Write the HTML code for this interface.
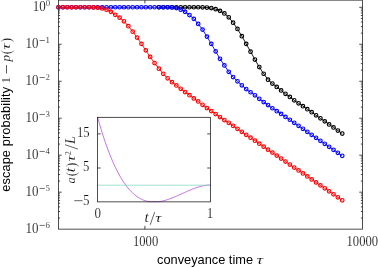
<!DOCTYPE html>
<html><head><meta charset="utf-8"><title>plot</title>
<style>html,body{margin:0;padding:0;background:#fff;}body{width:378px;height:268px;overflow:hidden;font-family:"Liberation Sans",sans-serif;}svg{display:block;will-change:transform;}</style></head>
<body>
<svg width="378" height="268" viewBox="0 0 378 268">
<rect width="378" height="268" fill="#fff"/>
<g stroke="#000" stroke-width="0.85" fill="none" stroke-opacity="0.82"><rect x="58.5" y="0.15" width="303.95" height="229.00" fill="none"/><path d="M58.5 7.30h3.2 M362.45 7.30h-3.2 M58.5 44.27h3.2 M362.45 44.27h-3.2 M58.5 33.14h1.6 M362.45 33.14h-1.6 M58.5 26.63h1.6 M362.45 26.63h-1.6 M58.5 22.01h1.6 M362.45 22.01h-1.6 M58.5 18.43h1.6 M362.45 18.43h-1.6 M58.5 15.50h1.6 M362.45 15.50h-1.6 M58.5 13.03h1.6 M362.45 13.03h-1.6 M58.5 10.88h1.6 M362.45 10.88h-1.6 M58.5 8.99h1.6 M362.45 8.99h-1.6 M58.5 81.25h3.2 M362.45 81.25h-3.2 M58.5 70.12h1.6 M362.45 70.12h-1.6 M58.5 63.61h1.6 M362.45 63.61h-1.6 M58.5 58.99h1.6 M362.45 58.99h-1.6 M58.5 55.41h1.6 M362.45 55.41h-1.6 M58.5 52.48h1.6 M362.45 52.48h-1.6 M58.5 50.00h1.6 M362.45 50.00h-1.6 M58.5 47.86h1.6 M362.45 47.86h-1.6 M58.5 45.97h1.6 M362.45 45.97h-1.6 M58.5 118.23h3.2 M362.45 118.23h-3.2 M58.5 107.09h1.6 M362.45 107.09h-1.6 M58.5 100.58h1.6 M362.45 100.58h-1.6 M58.5 95.96h1.6 M362.45 95.96h-1.6 M58.5 92.38h1.6 M362.45 92.38h-1.6 M58.5 89.45h1.6 M362.45 89.45h-1.6 M58.5 86.98h1.6 M362.45 86.98h-1.6 M58.5 84.83h1.6 M362.45 84.83h-1.6 M58.5 82.94h1.6 M362.45 82.94h-1.6 M58.5 155.20h3.2 M362.45 155.20h-3.2 M58.5 144.07h1.6 M362.45 144.07h-1.6 M58.5 137.56h1.6 M362.45 137.56h-1.6 M58.5 132.94h1.6 M362.45 132.94h-1.6 M58.5 129.36h1.6 M362.45 129.36h-1.6 M58.5 126.43h1.6 M362.45 126.43h-1.6 M58.5 123.95h1.6 M362.45 123.95h-1.6 M58.5 121.81h1.6 M362.45 121.81h-1.6 M58.5 119.92h1.6 M362.45 119.92h-1.6 M58.5 192.18h3.2 M362.45 192.18h-3.2 M58.5 181.04h1.6 M362.45 181.04h-1.6 M58.5 174.53h1.6 M362.45 174.53h-1.6 M58.5 169.91h1.6 M362.45 169.91h-1.6 M58.5 166.33h1.6 M362.45 166.33h-1.6 M58.5 163.40h1.6 M362.45 163.40h-1.6 M58.5 160.93h1.6 M362.45 160.93h-1.6 M58.5 158.78h1.6 M362.45 158.78h-1.6 M58.5 156.89h1.6 M362.45 156.89h-1.6 M58.5 218.02h1.6 M362.45 218.02h-1.6 M58.5 211.51h1.6 M362.45 211.51h-1.6 M58.5 206.89h1.6 M362.45 206.89h-1.6 M58.5 203.31h1.6 M362.45 203.31h-1.6 M58.5 200.38h1.6 M362.45 200.38h-1.6 M58.5 197.90h1.6 M362.45 197.90h-1.6 M58.5 195.76h1.6 M362.45 195.76h-1.6 M58.5 193.87h1.6 M362.45 193.87h-1.6 M144.9 229.15v-3.3 M144.9 0.15v3.3"/></g>
<polyline points="158.90,7.25 163.26,7.25 167.62,7.25 171.99,7.25 176.36,7.25 180.72,7.25 185.09,7.25 189.45,7.25 193.81,7.25 198.18,7.25 202.55,7.30 206.91,7.55 211.28,8.05 215.64,9.15 220.00,10.85 224.37,13.45 228.74,17.25 233.10,22.65 237.47,28.95 241.83,36.15 246.20,43.85 250.56,51.65 254.93,59.55 259.29,67.05 263.65,73.75 268.02,79.65 272.38,83.55 276.75,86.95 281.12,90.45 285.48,93.85 289.85,96.95 294.21,100.35 298.58,103.35 302.94,106.15 307.31,109.19 311.67,112.24 316.04,115.28 320.40,118.33 324.76,121.37 329.13,124.42 333.50,127.46 337.86,130.51 342.23,133.55" fill="none" stroke="#000000" stroke-width="0.9"/>
<g fill="none" stroke="#000000" stroke-width="1.15"><circle cx="158.90" cy="7.25" r="1.8"/><circle cx="163.26" cy="7.25" r="1.8"/><circle cx="167.62" cy="7.25" r="1.8"/><circle cx="171.99" cy="7.25" r="1.8"/><circle cx="176.36" cy="7.25" r="1.8"/><circle cx="180.72" cy="7.25" r="1.8"/><circle cx="185.09" cy="7.25" r="1.8"/><circle cx="189.45" cy="7.25" r="1.8"/><circle cx="193.81" cy="7.25" r="1.8"/><circle cx="198.18" cy="7.25" r="1.8"/><circle cx="202.55" cy="7.30" r="1.8"/><circle cx="206.91" cy="7.55" r="1.8"/><circle cx="211.28" cy="8.05" r="1.8"/><circle cx="215.64" cy="9.15" r="1.8"/><circle cx="220.00" cy="10.85" r="1.8"/><circle cx="224.37" cy="13.45" r="1.8"/><circle cx="228.74" cy="17.25" r="1.8"/><circle cx="233.10" cy="22.65" r="1.8"/><circle cx="237.47" cy="28.95" r="1.8"/><circle cx="241.83" cy="36.15" r="1.8"/><circle cx="246.20" cy="43.85" r="1.8"/><circle cx="250.56" cy="51.65" r="1.8"/><circle cx="254.93" cy="59.55" r="1.8"/><circle cx="259.29" cy="67.05" r="1.8"/><circle cx="263.65" cy="73.75" r="1.8"/><circle cx="268.02" cy="79.65" r="1.8"/><circle cx="272.38" cy="83.55" r="1.8"/><circle cx="276.75" cy="86.95" r="1.8"/><circle cx="281.12" cy="90.45" r="1.8"/><circle cx="285.48" cy="93.85" r="1.8"/><circle cx="289.85" cy="96.95" r="1.8"/><circle cx="294.21" cy="100.35" r="1.8"/><circle cx="298.58" cy="103.35" r="1.8"/><circle cx="302.94" cy="106.15" r="1.8"/><circle cx="307.31" cy="109.19" r="1.8"/><circle cx="311.67" cy="112.24" r="1.8"/><circle cx="316.04" cy="115.28" r="1.8"/><circle cx="320.40" cy="118.33" r="1.8"/><circle cx="324.76" cy="121.37" r="1.8"/><circle cx="329.13" cy="124.42" r="1.8"/><circle cx="333.50" cy="127.46" r="1.8"/><circle cx="337.86" cy="130.51" r="1.8"/><circle cx="342.23" cy="133.55" r="1.8"/></g>

<polyline points="58.50,7.25 62.87,7.25 67.23,7.25 71.59,7.25 75.96,7.25 80.33,7.25 84.69,7.25 89.06,7.25 93.42,7.25 97.78,7.25 102.15,7.25 106.52,7.25 110.88,7.25 115.25,7.25 119.61,7.25 123.98,7.25 128.34,7.25 132.70,7.25 137.07,7.25 141.44,7.25 145.80,7.25 150.17,7.25 154.53,7.25 158.90,7.25 163.26,7.25 167.62,7.25 171.99,7.45 176.36,8.05 180.72,9.65 185.09,11.85 189.45,15.05 193.81,18.85 198.18,23.95 202.55,29.60 206.91,36.60 211.28,43.85 215.64,51.35 220.00,58.75 224.37,65.45 228.74,71.85 233.10,77.05 237.47,81.35 241.83,85.35 246.20,89.05 250.56,92.25 254.93,95.35 259.29,98.85 263.65,102.05 268.02,105.05 272.38,108.25 276.75,111.15 281.12,113.95 285.48,116.95 289.85,119.75 294.21,122.80 298.58,125.85 302.94,128.84 307.31,131.83 311.67,134.82 316.04,137.81 320.40,140.80 324.76,143.79 329.13,146.78 333.50,149.77 337.86,152.76 342.23,155.75" fill="none" stroke="#0000ff" stroke-width="0.9"/>
<g fill="none" stroke="#0000ff" stroke-width="1.15"><circle cx="58.50" cy="7.25" r="1.8"/><circle cx="62.87" cy="7.25" r="1.8"/><circle cx="67.23" cy="7.25" r="1.8"/><circle cx="71.59" cy="7.25" r="1.8"/><circle cx="75.96" cy="7.25" r="1.8"/><circle cx="80.33" cy="7.25" r="1.8"/><circle cx="84.69" cy="7.25" r="1.8"/><circle cx="89.06" cy="7.25" r="1.8"/><circle cx="93.42" cy="7.25" r="1.8"/><circle cx="97.78" cy="7.25" r="1.8"/><circle cx="102.15" cy="7.25" r="1.8"/><circle cx="106.52" cy="7.25" r="1.8"/><circle cx="110.88" cy="7.25" r="1.8"/><circle cx="115.25" cy="7.25" r="1.8"/><circle cx="119.61" cy="7.25" r="1.8"/><circle cx="123.98" cy="7.25" r="1.8"/><circle cx="128.34" cy="7.25" r="1.8"/><circle cx="132.70" cy="7.25" r="1.8"/><circle cx="137.07" cy="7.25" r="1.8"/><circle cx="141.44" cy="7.25" r="1.8"/><circle cx="145.80" cy="7.25" r="1.8"/><circle cx="150.17" cy="7.25" r="1.8"/><circle cx="154.53" cy="7.25" r="1.8"/><circle cx="158.90" cy="7.25" r="1.8"/><circle cx="163.26" cy="7.25" r="1.8"/><circle cx="167.62" cy="7.25" r="1.8"/><circle cx="171.99" cy="7.45" r="1.8"/><circle cx="176.36" cy="8.05" r="1.8"/><circle cx="180.72" cy="9.65" r="1.8"/><circle cx="185.09" cy="11.85" r="1.8"/><circle cx="189.45" cy="15.05" r="1.8"/><circle cx="193.81" cy="18.85" r="1.8"/><circle cx="198.18" cy="23.95" r="1.8"/><circle cx="202.55" cy="29.60" r="1.8"/><circle cx="206.91" cy="36.60" r="1.8"/><circle cx="211.28" cy="43.85" r="1.8"/><circle cx="215.64" cy="51.35" r="1.8"/><circle cx="220.00" cy="58.75" r="1.8"/><circle cx="224.37" cy="65.45" r="1.8"/><circle cx="228.74" cy="71.85" r="1.8"/><circle cx="233.10" cy="77.05" r="1.8"/><circle cx="237.47" cy="81.35" r="1.8"/><circle cx="241.83" cy="85.35" r="1.8"/><circle cx="246.20" cy="89.05" r="1.8"/><circle cx="250.56" cy="92.25" r="1.8"/><circle cx="254.93" cy="95.35" r="1.8"/><circle cx="259.29" cy="98.85" r="1.8"/><circle cx="263.65" cy="102.05" r="1.8"/><circle cx="268.02" cy="105.05" r="1.8"/><circle cx="272.38" cy="108.25" r="1.8"/><circle cx="276.75" cy="111.15" r="1.8"/><circle cx="281.12" cy="113.95" r="1.8"/><circle cx="285.48" cy="116.95" r="1.8"/><circle cx="289.85" cy="119.75" r="1.8"/><circle cx="294.21" cy="122.80" r="1.8"/><circle cx="298.58" cy="125.85" r="1.8"/><circle cx="302.94" cy="128.84" r="1.8"/><circle cx="307.31" cy="131.83" r="1.8"/><circle cx="311.67" cy="134.82" r="1.8"/><circle cx="316.04" cy="137.81" r="1.8"/><circle cx="320.40" cy="140.80" r="1.8"/><circle cx="324.76" cy="143.79" r="1.8"/><circle cx="329.13" cy="146.78" r="1.8"/><circle cx="333.50" cy="149.77" r="1.8"/><circle cx="337.86" cy="152.76" r="1.8"/><circle cx="342.23" cy="155.75" r="1.8"/></g>

<polyline points="58.50,7.25 62.87,7.25 67.23,7.25 71.59,7.25 75.96,7.25 80.33,7.25 84.69,7.25 89.06,7.25 93.42,7.45 97.78,7.65 102.15,8.45 106.52,9.65 110.88,11.85 115.25,14.75 119.61,17.65 123.98,21.25 128.34,26.15 132.70,31.65 137.07,37.55 141.44,43.85 145.80,50.35 150.17,56.95 154.53,63.05 158.90,68.65 163.26,73.85 167.62,78.35 171.99,82.15 176.36,85.45 180.72,88.85 185.09,92.05 189.45,95.15 193.81,98.45 198.18,101.45 202.55,104.85 206.91,108.05 211.28,111.05 215.64,114.05 220.00,117.05 224.37,120.05 228.74,122.85 233.10,125.83 237.47,128.80 241.83,131.78 246.20,134.76 250.56,137.73 254.93,140.71 259.29,143.69 263.65,146.67 268.02,149.64 272.38,152.62 276.75,155.60 281.12,158.57 285.48,161.55 289.85,164.53 294.21,167.50 298.58,170.48 302.94,173.46 307.31,176.43 311.67,179.41 316.04,182.39 320.40,185.37 324.76,188.34 329.13,191.32 333.50,194.30 337.86,197.27 342.23,200.25" fill="none" stroke="#ff0000" stroke-width="0.9"/>
<g fill="none" stroke="#ff0000" stroke-width="1.15"><circle cx="58.50" cy="7.25" r="1.8"/><circle cx="62.87" cy="7.25" r="1.8"/><circle cx="67.23" cy="7.25" r="1.8"/><circle cx="71.59" cy="7.25" r="1.8"/><circle cx="75.96" cy="7.25" r="1.8"/><circle cx="80.33" cy="7.25" r="1.8"/><circle cx="84.69" cy="7.25" r="1.8"/><circle cx="89.06" cy="7.25" r="1.8"/><circle cx="93.42" cy="7.45" r="1.8"/><circle cx="97.78" cy="7.65" r="1.8"/><circle cx="102.15" cy="8.45" r="1.8"/><circle cx="106.52" cy="9.65" r="1.8"/><circle cx="110.88" cy="11.85" r="1.8"/><circle cx="115.25" cy="14.75" r="1.8"/><circle cx="119.61" cy="17.65" r="1.8"/><circle cx="123.98" cy="21.25" r="1.8"/><circle cx="128.34" cy="26.15" r="1.8"/><circle cx="132.70" cy="31.65" r="1.8"/><circle cx="137.07" cy="37.55" r="1.8"/><circle cx="141.44" cy="43.85" r="1.8"/><circle cx="145.80" cy="50.35" r="1.8"/><circle cx="150.17" cy="56.95" r="1.8"/><circle cx="154.53" cy="63.05" r="1.8"/><circle cx="158.90" cy="68.65" r="1.8"/><circle cx="163.26" cy="73.85" r="1.8"/><circle cx="167.62" cy="78.35" r="1.8"/><circle cx="171.99" cy="82.15" r="1.8"/><circle cx="176.36" cy="85.45" r="1.8"/><circle cx="180.72" cy="88.85" r="1.8"/><circle cx="185.09" cy="92.05" r="1.8"/><circle cx="189.45" cy="95.15" r="1.8"/><circle cx="193.81" cy="98.45" r="1.8"/><circle cx="198.18" cy="101.45" r="1.8"/><circle cx="202.55" cy="104.85" r="1.8"/><circle cx="206.91" cy="108.05" r="1.8"/><circle cx="211.28" cy="111.05" r="1.8"/><circle cx="215.64" cy="114.05" r="1.8"/><circle cx="220.00" cy="117.05" r="1.8"/><circle cx="224.37" cy="120.05" r="1.8"/><circle cx="228.74" cy="122.85" r="1.8"/><circle cx="233.10" cy="125.83" r="1.8"/><circle cx="237.47" cy="128.80" r="1.8"/><circle cx="241.83" cy="131.78" r="1.8"/><circle cx="246.20" cy="134.76" r="1.8"/><circle cx="250.56" cy="137.73" r="1.8"/><circle cx="254.93" cy="140.71" r="1.8"/><circle cx="259.29" cy="143.69" r="1.8"/><circle cx="263.65" cy="146.67" r="1.8"/><circle cx="268.02" cy="149.64" r="1.8"/><circle cx="272.38" cy="152.62" r="1.8"/><circle cx="276.75" cy="155.60" r="1.8"/><circle cx="281.12" cy="158.57" r="1.8"/><circle cx="285.48" cy="161.55" r="1.8"/><circle cx="289.85" cy="164.53" r="1.8"/><circle cx="294.21" cy="167.50" r="1.8"/><circle cx="298.58" cy="170.48" r="1.8"/><circle cx="302.94" cy="173.46" r="1.8"/><circle cx="307.31" cy="176.43" r="1.8"/><circle cx="311.67" cy="179.41" r="1.8"/><circle cx="316.04" cy="182.39" r="1.8"/><circle cx="320.40" cy="185.37" r="1.8"/><circle cx="324.76" cy="188.34" r="1.8"/><circle cx="329.13" cy="191.32" r="1.8"/><circle cx="333.50" cy="194.30" r="1.8"/><circle cx="337.86" cy="197.27" r="1.8"/><circle cx="342.23" cy="200.25" r="1.8"/></g>

<rect x="97.5" y="117.35" width="112.90" height="84.50" fill="#fff"/>
<polyline points="97.50,116.85 98.63,120.88 99.76,124.79 100.89,128.58 102.02,132.25 103.14,135.81 104.27,139.25 105.40,142.58 106.53,145.80 107.66,148.91 108.79,151.90 109.92,154.80 111.05,157.59 112.18,160.27 113.31,162.86 114.44,165.34 115.56,167.73 116.69,170.02 117.82,172.21 118.95,174.31 120.08,176.32 121.21,178.24 122.34,180.07 123.47,181.82 124.60,183.47 125.72,185.05 126.85,186.54 127.98,187.96 129.11,189.29 130.24,190.55 131.37,191.73 132.50,192.84 133.63,193.88 134.76,194.85 135.89,195.74 137.01,196.58 138.14,197.34 139.27,198.04 140.40,198.68 141.53,199.26 142.66,199.78 143.79,200.24 144.92,200.65 146.05,201.00 147.18,201.30 148.31,201.55 149.43,201.65 150.56,201.65 151.69,201.65 152.82,201.65 153.95,201.65 155.08,201.65 156.21,201.65 157.34,201.65 158.47,201.65 159.59,201.62 160.72,201.42 161.85,201.19 162.98,200.93 164.11,200.64 165.24,200.33 166.37,199.99 167.50,199.63 168.63,199.24 169.76,198.84 170.88,198.42 172.01,197.98 173.14,197.53 174.27,197.06 175.40,196.59 176.53,196.10 177.66,195.60 178.79,195.10 179.92,194.60 181.05,194.09 182.18,193.58 183.30,193.06 184.43,192.55 185.56,192.05 186.69,191.55 187.82,191.05 188.95,190.56 190.08,190.09 191.21,189.62 192.34,189.17 193.47,188.73 194.59,188.31 195.72,187.91 196.85,187.52 197.98,187.16 199.11,186.82 200.24,186.51 201.37,186.22 202.50,185.96 203.63,185.73 204.75,185.53 205.88,185.36 207.01,185.23 208.14,185.13 209.27,185.07 210.40,185.05" fill="none" stroke="#9400d3" stroke-width="0.55"/>
<path d="M97.5 185.20H210.4" stroke="#7fd4bd" stroke-width="0.9" stroke-opacity="0.8" fill="none"/>
<g stroke="#000" stroke-width="0.85" fill="none" stroke-opacity="0.82"><rect x="97.5" y="117.35" width="112.90" height="84.50"/><path d="M97.5 133.90h3.2 M210.4 133.90h-3.2 M97.5 168.00h3.2 M210.4 168.00h-3.2"/></g>
<g font-family="Liberation Serif, serif" font-size="12.6" fill="#111" stroke="#fff" stroke-width="0.12">
<text transform="translate(45.70 11.45) scale(1 1.09)" text-anchor="end" font-size="13.0">10</text>
<text transform="translate(45.80 6.15) scale(1 1.0)" text-anchor="start" font-size="8.8">0</text>
<text transform="translate(38.40 48.42) scale(1 1.09)" text-anchor="end" font-size="13.0">10</text>
<path d="M39.6 40.52h5.2" stroke="#111" stroke-width="0.6"/>
<text transform="translate(45.60 43.12) scale(1 1.0)" text-anchor="start" font-size="8.8">1</text>
<text transform="translate(38.40 85.40) scale(1 1.09)" text-anchor="end" font-size="13.0">10</text>
<path d="M39.6 77.50h5.2" stroke="#111" stroke-width="0.6"/>
<text transform="translate(45.60 80.10) scale(1 1.0)" text-anchor="start" font-size="8.8">2</text>
<text transform="translate(38.40 122.38) scale(1 1.09)" text-anchor="end" font-size="13.0">10</text>
<path d="M39.6 114.48h5.2" stroke="#111" stroke-width="0.6"/>
<text transform="translate(45.60 117.08) scale(1 1.0)" text-anchor="start" font-size="8.8">3</text>
<text transform="translate(38.40 159.35) scale(1 1.09)" text-anchor="end" font-size="13.0">10</text>
<path d="M39.6 151.45h5.2" stroke="#111" stroke-width="0.6"/>
<text transform="translate(45.60 154.05) scale(1 1.0)" text-anchor="start" font-size="8.8">4</text>
<text transform="translate(38.40 196.33) scale(1 1.09)" text-anchor="end" font-size="13.0">10</text>
<path d="M39.6 188.43h5.2" stroke="#111" stroke-width="0.6"/>
<text transform="translate(45.60 191.03) scale(1 1.0)" text-anchor="start" font-size="8.8">5</text>
<text transform="translate(38.40 233.30) scale(1 1.09)" text-anchor="end" font-size="13.0">10</text>
<path d="M39.6 225.40h5.2" stroke="#111" stroke-width="0.6"/>
<text transform="translate(45.60 228.00) scale(1 1.0)" text-anchor="start" font-size="8.8">6</text>
<text transform="translate(145.60 245.50) scale(1 1.09)" text-anchor="middle" font-size="12.6">1000</text>
<text transform="translate(362.30 245.50) scale(1 1.09)" text-anchor="middle" font-size="12.6">10000</text>
<text transform="translate(89.60 136.90) scale(1 1.09)" text-anchor="end" font-size="12.7">15</text>
<text transform="translate(89.40 171.00) scale(1 1.09)" text-anchor="end" font-size="12.7">5</text>
<text transform="translate(89.40 204.70) scale(1 1.09)" text-anchor="end" font-size="13.0">5</text>
<path d="M74.3 200.7h8.2" stroke="#111" stroke-width="0.65"/>
<text transform="translate(97.70 218.00) scale(1 1.09)" text-anchor="middle" font-size="13.0">0</text>
<text transform="translate(210.10 218.00) scale(1 1.09)" text-anchor="middle" font-size="13.0">1</text>
<text x="144.60" y="222.00" font-size="14.5" font-style="italic" textLength="4.30" lengthAdjust="spacingAndGlyphs">t</text>
<path d="M150.2 224.8L154.7 212.1" stroke="#111" stroke-width="0.65"/>
<text x="155.20" y="222.00" font-size="12.6" font-style="italic" textLength="6.10" lengthAdjust="spacingAndGlyphs">τ</text>
<g transform="translate(75.4 183.4) rotate(-90)">
<text x="0.00" y="0.00" font-size="12.6" font-style="italic" textLength="6.30" lengthAdjust="spacingAndGlyphs">a</text>
<text x="7.20" y="0.90" font-size="14.2" textLength="4.30" lengthAdjust="spacingAndGlyphs">(</text>
<text x="11.20" y="0.00" font-size="14.5" font-style="italic" textLength="4.50" lengthAdjust="spacingAndGlyphs">t</text>
<text x="16.50" y="0.90" font-size="14.2" textLength="4.30" lengthAdjust="spacingAndGlyphs">)</text>
<text x="21.70" y="0.00" font-size="12.6" font-style="italic" textLength="6.20" lengthAdjust="spacingAndGlyphs">τ</text>
<text x="28.00" y="-4.70" font-size="8.8" textLength="4.40" lengthAdjust="spacingAndGlyphs">2</text>
<path d="M34.3 2.5L38.7 -10.4" stroke="#111" stroke-width="0.65"/>
<text x="39.50" y="0.00" font-size="13.8" font-style="italic" textLength="7.90" lengthAdjust="spacingAndGlyphs">L</text>
</g>
<g transform="translate(10.1 191.8) rotate(-90)">
<text x="108.50" y="0.00" font-size="12.6" textLength="6.20" lengthAdjust="spacingAndGlyphs">1</text>
<path d="M118.3 -3.6H126.7" stroke="#111" stroke-width="0.7"/>
<text x="130.20" y="0.00" font-size="12.6" font-style="italic" textLength="6.60" lengthAdjust="spacingAndGlyphs">p</text>
<text x="137.60" y="0.90" font-size="14.2" textLength="4.30" lengthAdjust="spacingAndGlyphs">(</text>
<text x="142.00" y="0.00" font-size="12.6" font-style="italic" textLength="6.40" lengthAdjust="spacingAndGlyphs">τ</text>
<text x="149.50" y="0.90" font-size="14.2" textLength="4.30" lengthAdjust="spacingAndGlyphs">)</text>
</g>
<text x="256.50" y="264.00" font-size="12.6" font-style="italic" textLength="6.70" lengthAdjust="spacingAndGlyphs">τ</text>
</g>
<text x="157.0" y="263.8" font-family="Liberation Sans, sans-serif" font-size="12.8" fill="#000" id="xl">conveyance time</text>
<text transform="translate(10.1 191.8) rotate(-90)" font-family="Liberation Sans, sans-serif" font-size="12.8" fill="#000" id="yl" textLength="104.9" lengthAdjust="spacing">escape probability</text>
</svg>
</body></html>
